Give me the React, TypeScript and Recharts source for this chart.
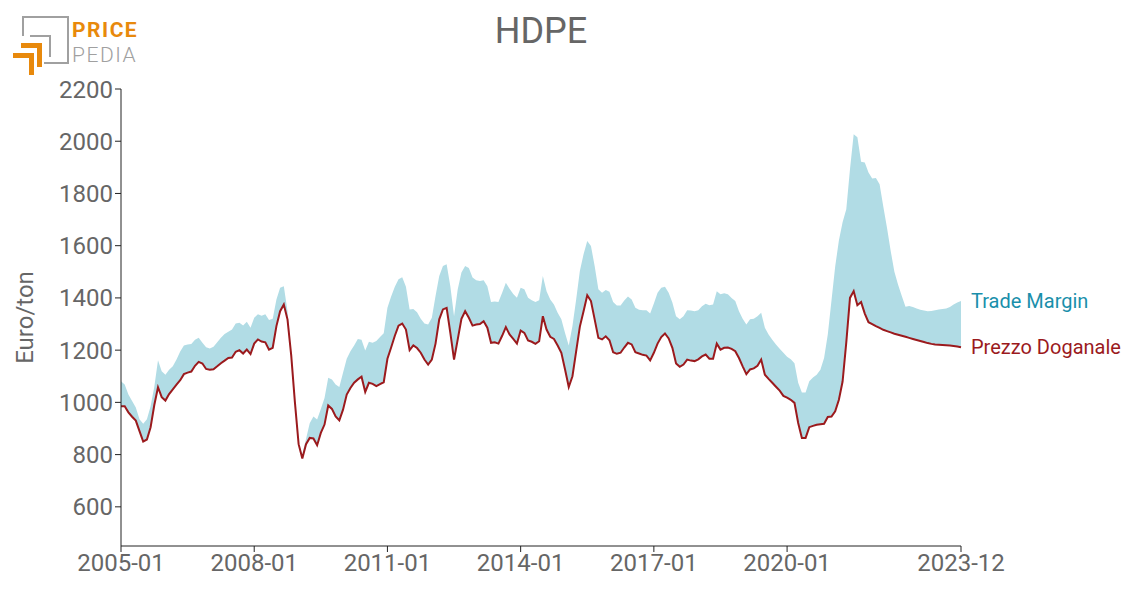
import React from 'react'
import { ComposedChart, Area, Line, XAxis, YAxis } from 'recharts'

// monthly values, 2005-01 .. 2023-12 (index 0 = 2005-01)
const prezzoDoganale = [
  985, 985, 962, 945, 930, 890, 850, 858, 905, 990, 1058, 1020,
  1007, 1032, 1050, 1068, 1085, 1108, 1114, 1118, 1140, 1155, 1149, 1128,
  1125, 1127, 1138, 1150, 1160, 1170, 1172, 1194, 1200, 1187, 1202, 1185,
  1225, 1241, 1233, 1230, 1202, 1209, 1292, 1349, 1375, 1317, 1180, 1000,
  840, 785, 840, 864, 862, 836, 883, 915, 988, 975, 946, 931,
  972, 1030, 1055, 1075, 1088, 1098, 1040, 1075, 1071, 1062, 1070, 1077,
  1167, 1210, 1255, 1294, 1302, 1279, 1200, 1218, 1208, 1190, 1164, 1145,
  1164, 1225, 1318, 1356, 1362, 1266, 1164, 1241, 1320, 1349, 1324, 1294,
  1298, 1300, 1311, 1286, 1228, 1230, 1225, 1255, 1288, 1260, 1243, 1225,
  1275, 1266, 1237, 1232, 1224, 1234, 1330, 1279, 1251, 1243, 1218, 1190,
  1126, 1059, 1100, 1195, 1290, 1349, 1410, 1388, 1318, 1247, 1241, 1253,
  1238, 1192, 1186, 1190, 1210, 1228, 1222, 1192, 1187, 1182, 1179, 1161,
  1190, 1225, 1250, 1264, 1245, 1209, 1149, 1136, 1145, 1164, 1160, 1158,
  1165, 1176, 1183, 1167, 1167, 1225, 1202, 1209, 1210, 1205, 1196, 1170,
  1138, 1108, 1126, 1130, 1140, 1164, 1106, 1090, 1075, 1060, 1045, 1025,
  1018, 1010, 998, 921, 864, 864, 905, 910, 914, 916, 918, 944,
  946, 966, 1010, 1080, 1230, 1400, 1426, 1372, 1384, 1340, 1307, 1300,
  1292, 1285, 1278, 1273, 1268, 1263, 1259, 1255, 1251, 1247, 1243, 1239,
  1235, 1231, 1227, 1224, 1222, 1221, 1220, 1219, 1218, 1216, 1214, 1211,
]

// top of the trade margin band (prezzo doganale + margin)
const tradeMarginTop = [
  1081, 1068, 1030, 1005, 980, 935, 918, 935, 985, 1060, 1161, 1119,
  1106, 1125, 1138, 1164, 1195, 1218, 1222, 1224, 1240, 1247, 1228, 1211,
  1206, 1213, 1230, 1247, 1262, 1270, 1279, 1302, 1305, 1294, 1309, 1286,
  1324, 1337, 1332, 1337, 1315, 1320, 1394, 1439, 1445, 1349, 1190, 1005,
  845, 800, 860, 920, 946, 934, 975, 1017, 1094, 1088, 1068, 1059,
  1113, 1167, 1196, 1218, 1243, 1240, 1199, 1232, 1228, 1235, 1250, 1265,
  1362, 1405, 1443, 1471, 1479, 1443, 1356, 1358, 1345, 1320, 1302, 1298,
  1324, 1407, 1484, 1522, 1529, 1445, 1330, 1433, 1497, 1522, 1515, 1478,
  1468, 1465, 1468, 1445, 1384, 1386, 1384, 1420, 1458, 1435, 1415, 1401,
  1439, 1433, 1401, 1391, 1384, 1391, 1484, 1426, 1394, 1375, 1343, 1318,
  1266, 1218, 1292, 1394, 1503, 1567, 1618, 1599, 1522, 1433, 1420, 1430,
  1424, 1384, 1371, 1371, 1390, 1405, 1394, 1362, 1355, 1353, 1353, 1340,
  1379, 1420, 1439, 1443, 1420, 1382, 1330, 1318, 1330, 1353, 1352, 1349,
  1353, 1368, 1378, 1372, 1375, 1426, 1414, 1418, 1414, 1400, 1388, 1349,
  1320, 1298, 1318, 1320, 1330, 1343, 1286, 1260, 1240, 1222, 1205, 1190,
  1175, 1165, 1150, 1075, 1038, 1038, 1081, 1095, 1106, 1125, 1170, 1260,
  1390, 1520, 1620, 1690, 1740, 1893, 2027, 2015, 1921, 1919, 1880, 1857,
  1859, 1835, 1750, 1669, 1580, 1500, 1450, 1407, 1366, 1369, 1365, 1359,
  1355, 1352, 1349, 1350, 1353, 1356, 1358, 1359, 1365, 1375, 1382, 1388,
]

const xTicks = [0, 36, 72, 108, 144, 180, 227]
const xTickLabels = ['2005-01', '2008-01', '2011-01', '2014-01', '2017-01', '2020-01', '2023-12']
const yTicks = [600, 800, 1000, 1200, 1400, 1600, 1800, 2000, 2200]

const data = prezzoDoganale.map((p, i) => ({
  i,
  prezzo: p,
  margin: [p, tradeMarginTop[i]],
}))

const last = data.length - 1
const grey = '#666'
const red = '#9b1a1d'
const teal = '#1a8fab'
const band = '#b1dce5'

const endLabel = (text: string, color: string) => (props: any) => {
  if (props.index !== last) return null
  return (
    <text x={props.x + 10} y={props.y} dy="0.35em" fill={color} fontSize={20} fontFamily="Roboto">
      {text}
    </text>
  )
}

function Logo() {
  return (
    <svg width={160} height={80} style={{ position: 'absolute', left: 0, top: 0 }}>
      <path d="M23 36 V17 H68 V63 H44" fill="none" stroke="#a0a0a0" strokeWidth={2} />
      <path d="M30 36 H50 V57" fill="none" stroke="#a0a0a0" strokeWidth={2} />
      <path d="M21 43 H42 V67 H37 V48 H21 Z" fill="#e8890c" />
      <path d="M13 53 H34 V75 H29 V58 H13 Z" fill="#e8890c" />
      <text x={72} y={37} fill="#e8890c" fontSize={21} fontWeight={700} letterSpacing={1.5} fontFamily="Roboto">PRICE</text>
      <text x={72} y={62} fill="#a0a0a0" fontSize={21} fontWeight={300} letterSpacing={1.5} fontFamily="Roboto">PEDIA</text>
    </svg>
  )
}

export default function App() {
  return (
    <div style={{ position: 'absolute', left: 0, top: 0, width: 1140, height: 607, background: '#fff', fontFamily: 'Roboto' }}>
      <Logo />
      <div style={{ position: 'absolute', left: 0, width: 1082, top: 10, textAlign: 'center', fontSize: 36, color: grey }}>
        HDPE
      </div>
      <ComposedChart
        width={1140}
        height={607}
        data={data}
        margin={{ top: 89, right: 179, bottom: 21, left: 0 }}
        style={{ fontFamily: 'Roboto' }}
      >
        <XAxis
          dataKey="i"
          type="number"
          domain={[0, last]}
          ticks={xTicks}
          tickFormatter={(v: number) => xTickLabels[xTicks.indexOf(v)]}
          height={40}
          stroke="#222"
          tick={{ fill: grey, fontSize: 24 }}
          interval={0}
        />
        <YAxis
          domain={[450, 2200]}
          ticks={yTicks}
          width={121}
          stroke="#222"
          tick={{ fill: grey, fontSize: 24 }}
          interval={0}
          label={{
            value: 'Euro/ton',
            angle: -90,
            position: 'insideLeft',
            offset: 24,
            style: { textAnchor: 'middle', fill: grey, fontSize: 24 },
          }}
        />
        <Area
          dataKey="margin"
          stroke="none"
          fill={band}
          fillOpacity={1}
          isAnimationActive={false}
          label={endLabel('Trade Margin', teal)}
        />
        <Line
          dataKey="prezzo"
          stroke={red}
          strokeWidth={2}
          dot={false}
          isAnimationActive={false}
          label={endLabel('Prezzo Doganale', red)}
        />
      </ComposedChart>
    </div>
  )
}
